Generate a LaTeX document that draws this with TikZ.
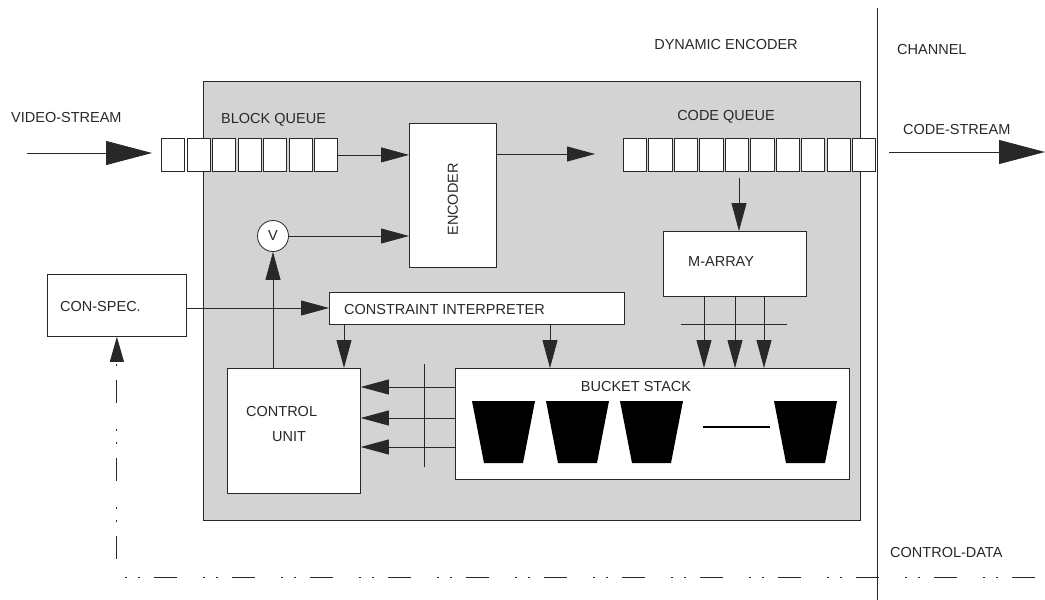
\documentclass[tikz,border=0pt]{standalone}
\usepackage{fontspec}
\setmainfont{Liberation Sans}
\usetikzlibrary{arrows.meta}
\definecolor{panel}{RGB}{211,211,211}
\definecolor{ink}{RGB}{40,40,40}
\begin{document}
\begin{tikzpicture}[x=1pt,y=-1pt,
  every node/.style={font=\fontsize{14.5}{16}\selectfont, text=ink},
  line/.style={draw=ink, line width=0.8pt},
  box/.style={draw=ink, fill=white, line width=0.8pt, inner sep=0pt, anchor=north west},
  cell/.style={box, minimum width=23.3pt, minimum height=33pt},
  lbl/.style={inner sep=0pt},
  arr/.style={line, -{Triangle[length=28pt,width=15pt]}},
  bigarr/.style={line, -{Triangle[length=46pt,width=24pt]}},
  dashdot/.style={line, line width=1pt, dash pattern=on 23pt off 14pt on 2pt off 11pt on 2pt off 26pt}
]
\useasboundingbox (0,0) rectangle (1045,600);

% panel
\node[box, fill=panel, minimum width=657pt, minimum height=439pt] (de) at (203,81) {};

% channel divider
\coordinate (chtop) at (877,8);
\coordinate (chbot) at (877,600);
\draw[line] (chtop) -- (chbot);

% queues
\foreach \i in {0,...,6} {
  \node[cell] (bq\i) at ({161+25.5*\i},138) {};
}
\foreach \i in {0,...,9} {
  \node[cell] (cq\i) at ({623+25.45*\i},138) {};
}

% boxes
\node[box, minimum width=87pt, minimum height=144pt] (enc) at (409,123) {};
\node[lbl, rotate=90] (enctxt) at ([yshift=-4pt]enc.center) {ENCODER};
\node[box, minimum width=143pt, minimum height=65pt] (marr) at (663,231) {};
\node[lbl, anchor=west] (marrtxt) at (688,262) {M-ARRAY};
\node[box, minimum width=139pt, minimum height=62pt] (cs) at (47,274) {};
\node[lbl, anchor=west] (cstxt) at (60,307) {CON-SPEC.};
\node[box, minimum width=295pt, minimum height=32pt] (ci) at (329,292) {};
\node[lbl, anchor=west] (citxt) at (344,310) {CONSTRAINT INTERPRETER};
\node[box, minimum width=133pt, minimum height=125pt] (cu) at (227,368) {};
\node[lbl, anchor=west] (cutxt1) at (246,412) {CONTROL};
\node[lbl, anchor=west] (cutxt2) at (272,437) {UNIT};
\node[box, minimum width=394pt, minimum height=111pt] (bs) at (455,368) {};
\node[lbl] (bstxt) at (636,387) {BUCKET STACK};
\node[draw=ink, fill=white, line width=0.8pt, circle, minimum size=31pt, inner sep=0pt] (v) at (273,236) {V};

% buckets
\foreach \x in {472,546,620,774} {
  \fill[black] (\x,401) -- ++(63,0) -- ++(-12,62) -- ++(-39,0) -- cycle;
}
\coordinate (dl) at (703,427);
\coordinate (dr) at (770,427);
\draw[draw=black, line width=1.6pt] (dl) -- (dr);

% labels
\node[lbl, anchor=west] (vs) at (11,118) {VIDEO-STREAM};
\node[lbl, anchor=west] (bqt) at (221,120) {BLOCK QUEUE};
\node[lbl] (cqt) at (726,117) {CODE QUEUE};
\node[lbl, anchor=west] (cst) at (903,130) {CODE-STREAM};
\node[lbl] (det) at (726,45) {DYNAMIC ENCODER};
\node[lbl, anchor=west] (cht) at (897,50) {CHANNEL};
\node[lbl, anchor=west] (cdt) at (890,553) {CONTROL-DATA};

% stream arrows
\coordinate (vsin) at (27,153);
\draw[bigarr, shorten >=9pt] (vsin) -- (vsin -| bq0.west);
\coordinate (csa) at (889,152);
\coordinate (csb) at (1045,152);
\draw[bigarr] (csa) -- (csb);

% internal arrows
\draw[arr] (bq6.east) -- (bq6.east -| enc.west);
\coordinate (eo) at (496,154);
\draw[arr, shorten >=28pt] (eo) -- (eo -| cq0.west);
\coordinate (cqo) at (739,178);
\draw[arr] (cqo) -- (cqo |- marr.north);
\foreach \x in {704,735,764} {
  \draw[arr] (\x,296) -- (\x,368);
}
\coordinate (mbl) at (681,324);
\coordinate (mbr) at (787,324);
\draw[line] (mbl) -- (mbr);

\draw[arr] (cs.east |- 0,308) -- (ci.west |- 0,308);
\draw[arr] (344,324) -- (344,368);
\draw[arr] (550,324) -- (550,368);
\draw[arr] (cu.north -| v.south) -- (v.south);
\draw[arr] (v.east) -- (v.east -| enc.west);
\foreach \y in {387,418,447} {
  \draw[arr] (bs.west |- 0,\y) -- (cu.east |- 0,\y);
}
\coordinate (bbt) at (424,364);
\coordinate (bbb) at (424,467);
\draw[line] (bbt) -- (bbb);

% control data
\coordinate (cdr) at (1035,577);
\coordinate (cdl) at (cs.south |- 0,577);
\draw[dashdot, -{Triangle[length=25pt,width=14pt]}] (cdr) -- (cdl) -- (cs.south);
\end{tikzpicture}
\end{document}
